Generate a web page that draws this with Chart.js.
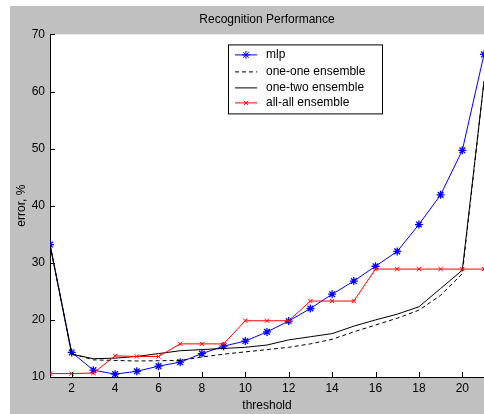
<!DOCTYPE html>
<html>
<head>
<meta charset="utf-8">
<script src="https://cdn.jsdelivr.net/npm/chart.js@4"></script>
<style>
  html, body { margin: 0; padding: 0; background: #fff; }
  #wrap { width: 484px; height: 414px; }
</style>
</head>
<body>
<div id="wrap"><canvas id="graph-perf" width="484" height="414"></canvas></div>
<script>
// data
const thresholds = [1, 2, 3, 4, 5, 6, 7, 8, 9, 10, 11, 12, 13, 14, 15, 16, 17, 18, 19, 20, 21];
const mlp        = [33.2, 14.3, 11.2, 10.5, 11.0, 11.9, 12.6, 14.1, 15.4, 16.3, 17.9, 19.8, 22.0, 24.5, 26.8, 29.4, 32.0, 36.7, 41.9, 49.7, 66.5];
const oneOne     = [33.2, 14.1, 13.0, 12.9, 12.8, 12.85, 12.9, 13.5, 14.0, 14.4, 14.8, 15.2, 15.8, 16.6, 17.9, 19.1, 20.3, 21.7, 24.3, 28.1, 61.8];
const oneTwo     = [33.2, 14.0, 13.2, 13.3, 13.6, 14.1, 14.6, 14.8, 15.0, 15.2, 15.6, 16.5, 17.05, 17.6, 18.9, 20.0, 21.0, 22.3, 25.5, 28.7, 61.8];
const allAll     = [10.6, 10.6, 10.7, 13.7, 13.6, 13.6, 15.8, 15.8, 15.8, 19.85, 19.85, 19.85, 23.3, 23.3, 23.3, 28.9, 28.9, 28.9, 28.9, 28.9, 28.9];
const xTickValues = [2, 4, 6, 8, 10, 12, 14, 16, 18, 20];
const yTickValues = [10, 20, 30, 40, 50, 60, 70];

const FONT = 'Liberation Sans, Arial, Helvetica, sans-serif';

function pts(values) {
  return values.map((v, i) => ({ x: thresholds[i], y: v }));
}

// matlab-like figure: gray frame, white axes box, inward ticks
const matlabFrame = {
  id: 'matlabFrame',
  beforeDraw(chart) {
    const ctx = chart.ctx, a = chart.chartArea;
    ctx.save();
    ctx.fillStyle = '#fff';
    ctx.fillRect(0, 0, chart.width, chart.height);
    ctx.fillStyle = '#c0c0c0';
    ctx.fillRect(10, 6, chart.width - 10, chart.height - 6);
    ctx.fillStyle = '#fff';
    ctx.fillRect(a.left, a.top, a.right - a.left, a.bottom - a.top);
    ctx.restore();
  },
  afterDraw(chart) {
    const ctx = chart.ctx, a = chart.chartArea;
    const xs = chart.scales.x, ys = chart.scales.y;
    ctx.save();
    ctx.strokeStyle = '#000';
    ctx.lineWidth = 1;
    ctx.beginPath();
    xTickValues.forEach(v => {
      const px = Math.round(xs.getPixelForValue(v)) + 0.5;
      ctx.moveTo(px, a.bottom);
      ctx.lineTo(px, a.bottom - 5);
    });
    yTickValues.forEach(v => {
      const py = Math.round(ys.getPixelForValue(v)) + 0.5;
      ctx.moveTo(a.left, py);
      ctx.lineTo(a.left + 5, py);
    });
    ctx.stroke();

    // legend box inside the axes
    const lx = a.left + 178, ly = a.top + 10, lw = 154, lh = 69;
    ctx.fillStyle = '#fff';
    ctx.fillRect(lx, ly, lw, lh);
    ctx.strokeRect(lx + 0.5, ly + 0.5, lw, lh);
    ctx.font = '12px ' + FONT;
    ctx.textBaseline = 'middle';
    ctx.textAlign = 'left';
    const rows = [10, 27, 43, 58];
    chart.data.datasets.forEach((ds, i) => {
      const y = ly + rows[i] + 0.5;
      ctx.strokeStyle = ds.borderColor;
      ctx.setLineDash(ds.borderDash || []);
      ctx.beginPath();
      ctx.moveTo(lx + 7, y);
      ctx.lineTo(lx + 29, y);
      ctx.stroke();
      ctx.setLineDash([]);
      if (ds.pointRadius > 0) {
        Chart.helpers.drawPoint(ctx, {
          pointStyle: ds.pointStyle, rotation: 0,
          radius: ds.pointRadius, borderWidth: 1
        }, lx + 18, y);
      }
      ctx.fillStyle = '#000';
      ctx.fillText(ds.label, lx + 38, y);
    });
    ctx.restore();
  }
};

var graphPerf = document.getElementById('graph-perf').getContext('2d');
var perf = new Chart(graphPerf, {
  type: 'line',
  data: {
    datasets: [{
      label: 'mlp',
      data: pts(mlp),
      borderColor: '#0000ff',
      backgroundColor: '#0000ff',
      borderWidth: 1,
      pointStyle: 'star',
      pointRadius: 4,
      pointBorderWidth: 1.3,
      order: 3
    }, {
      label: 'one-one ensemble',
      data: pts(oneOne),
      borderColor: '#000000',
      borderWidth: 1,
      borderDash: [4, 3],
      pointRadius: 0,
      order: 2
    }, {
      label: 'one-two ensemble',
      data: pts(oneTwo),
      borderColor: '#000000',
      borderWidth: 1,
      pointRadius: 0,
      order: 1
    }, {
      label: 'all-all ensemble',
      data: pts(allAll),
      borderColor: '#ff0000',
      backgroundColor: '#ff0000',
      borderWidth: 1,
      pointStyle: 'crossRot',
      pointRadius: 3,
      pointBorderWidth: 1,
      order: 0
    }]
  },
  options: {
    responsive: false,
    animation: false,
    events: [],
    layout: { autoPadding: false, padding: { left: 10, top: 6, right: 0, bottom: 0 } },
    elements: { line: { tension: 0 } },
    scales: {
      x: {
        type: 'linear',
        min: 1,
        max: 21,
        grid: { display: false, drawTicks: false },
        border: { display: true, color: '#000', width: 1 },
        afterBuildTicks(scale) { scale.ticks = xTickValues.map(v => ({ value: v })); },
        afterFit(scale) { scale.height = 37; scale.paddingLeft = 0; scale.paddingRight = 0; },
        ticks: { color: '#000', padding: 4, maxRotation: 0, font: { family: FONT, size: 12 } },
        title: { display: true, text: 'threshold', color: '#000', padding: { top: 0, bottom: 1 }, font: { family: FONT, size: 12 } }
      },
      y: {
        min: 10,
        max: 70,
        grid: { display: false, drawTicks: false },
        border: { display: true, color: '#000', width: 1 },
        afterBuildTicks(scale) { scale.ticks = yTickValues.map(v => ({ value: v })); },
        afterFit(scale) { scale.width = 40; },
        ticks: { color: '#000', padding: 5, font: { family: FONT, size: 12 } },
        title: { display: true, text: 'error, %', color: '#000', padding: { top: 4, bottom: 0 }, font: { family: FONT, size: 12 } }
      }
    },
    plugins: {
      legend: { display: false },
      tooltip: { enabled: false },
      title: {
        display: true,
        text: 'Recognition Performance',
        color: '#000',
        fullSize: false,
        padding: { top: 6, bottom: 8 },
        font: { family: FONT, size: 12, weight: 'normal' }
      }
    }
  },
  plugins: [matlabFrame]
});
</script>
</body>
</html>
